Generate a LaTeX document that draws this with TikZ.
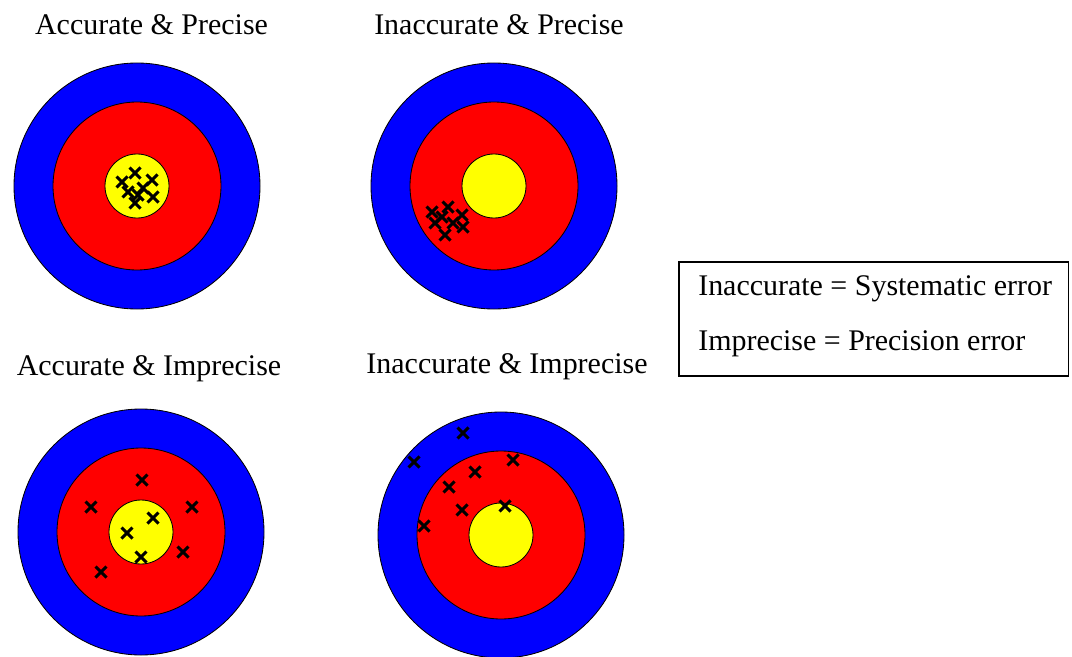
\documentclass[tikz,border=0pt]{standalone}
\usepackage{fontspec}
\setmainfont{Liberation Serif}
\usepackage{tikz}
\usetikzlibrary{positioning}

\definecolor{ringblue}{RGB}{0,0,255}
\definecolor{ringred}{RGB}{255,0,0}
\definecolor{ringyellow}{RGB}{255,255,0}

\begin{document}
\begin{tikzpicture}[
		x=0.025cm, y=-0.025cm,
		% 标题与图例文字
		title/.style={anchor=base, inner sep=0pt, font=\fontsize{21.3pt}{25pt}\selectfont},
		legendtext/.style={anchor=base west, inner sep=0pt, font=\fontsize{21.3pt}{25pt}\selectfont},
		legendbox/.style={draw, line width=0.8pt, minimum width=9.725cm, minimum height=2.85cm, inner sep=0pt},
		% 靶环
		ring/.style={draw=black, line width=0.6pt},
		% 命中标记
		hit/.pic={\draw[line width=2.1pt] (-5.5,-5.5) -- (5.5,5.5) (-5.5,5.5) -- (5.5,-5.5);}
		]
		\useasboundingbox (0,0) rectangle (1072,657);

		% 四个靶心
		\coordinate (tA) at (137,186);
		\coordinate (tB) at (494,186);
		\coordinate (tC) at (141,532);
		\coordinate (tD) at (501,535);
		\foreach \t in {tA,tB,tC,tD}{
			\fill[ring, fill=ringblue] (\t) circle (123);
			\fill[ring, fill=ringred] (\t) circle (84);
			\fill[ring, fill=ringyellow] (\t) circle (32);
		}

		% 命中位置
		\foreach \p in {(122,182),(135,173),(152,180),(128,192),(143,188),(153,197),(135,203),(138,195)}
			\pic at \p {hit};
		\foreach \p in {(432,212),(448,207),(462,215),(435,223),(453,223),(463,227),(445,235),(442,217)}
			\pic at \p {hit};
		\foreach \p in {(142,480),(91,507),(192,507),(153,518),(127,533),(183,552),(141,557),(101,572)}
			\pic at \p {hit};
		\foreach \p in {(463,433),(414,462),(513,460),(475,472),(449,487),(462,510),(505,506),(424,526)}
			\pic at \p {hit};

		% 标题
		\node[title] (ttlA) at (151.5,35) {Accurate \& Precise};
		\node[title] (ttlB) at (499,35) {Inaccurate \& Precise};
		\node[title] (ttlC) at (149,375) {Accurate \& Imprecise};
		\node[title] (ttlD) at (507,373) {Inaccurate \& Imprecise};

		% 图例
		\node[legendbox] (legend) at (873.5,319) {};
		\node[legendtext] (sys) at (698,295) {Inaccurate = Systematic error};
		\node[legendtext] (prec) at (698,350) {Imprecise = Precision error};
	\end{tikzpicture}
\end{document}
